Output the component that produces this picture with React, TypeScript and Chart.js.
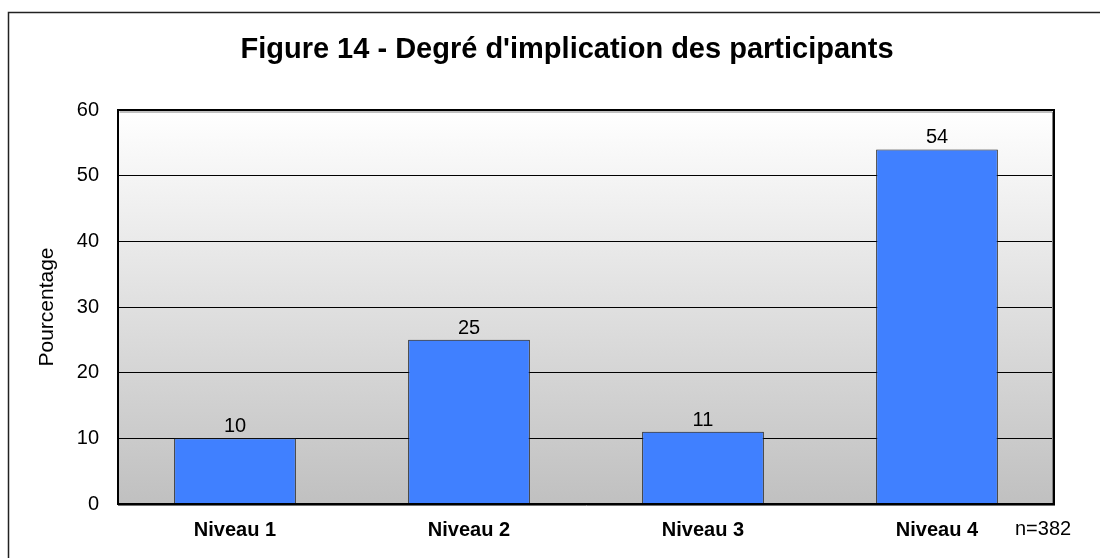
import React, { useEffect, useRef } from "react";
import { Chart, registerables } from "chart.js";

Chart.register(...registerables);

const categories = ["Niveau 1", "Niveau 2", "Niveau 3", "Niveau 4"];
const values = [10, 25, 11, 54];
const yTicks = [0, 10, 20, 30, 40, 50, 60];
const titleText = "Figure 14 - Degré d'implication des participants";
const yTitle = "Pourcentage";
const noteText = "n=382";

const FONT = "'Liberation Sans', Arial, sans-serif";

const decorPlugin = {
  id: "decor",
  beforeDraw(chart: any) {
    const { ctx, chartArea: a } = chart;
    ctx.save();
    ctx.fillStyle = "#ffffff";
    ctx.fillRect(0, 0, chart.width, chart.height);
    const g = ctx.createLinearGradient(0, a.top, 0, a.bottom);
    g.addColorStop(0, "#ffffff");
    g.addColorStop(1, "#c0c0c0");
    ctx.fillStyle = g;
    ctx.fillRect(a.left, a.top, a.right - a.left, a.bottom - a.top);
    // outer frame (top and left only visible)
    ctx.strokeStyle = "#222222";
    ctx.lineWidth = 1.5;
    ctx.beginPath();
    ctx.moveTo(8.5, chart.height);
    ctx.lineTo(8.5, 12.5);
    ctx.lineTo(chart.width, 12.5);
    ctx.stroke();
    ctx.restore();
  },
  afterDraw(chart: any) {
    const { ctx, chartArea: a } = chart;
    ctx.save();
    // plot frame
    ctx.lineWidth = 1;
    ctx.strokeStyle = "#808080";
    ctx.beginPath();
    ctx.moveTo(a.left + 1.5, a.top + 2);
    ctx.lineTo(a.right - 1.5, a.top + 2);
    ctx.moveTo(a.right - 1.5, a.top + 2);
    ctx.lineTo(a.right - 1.5, a.bottom);
    ctx.stroke();
    ctx.lineWidth = 2;
    ctx.strokeStyle = "#000000";
    ctx.beginPath();
    ctx.moveTo(a.left, a.bottom);
    ctx.lineTo(a.left, a.top);
    ctx.lineTo(a.right, a.top);
    ctx.lineTo(a.right, a.bottom);
    ctx.stroke();
    ctx.beginPath();
    ctx.moveTo(a.left - 1, a.bottom);
    ctx.lineTo(a.right + 1, a.bottom);
    ctx.stroke();
    ctx.strokeStyle = "#707070";
    ctx.lineWidth = 1;
    ctx.beginPath();
    ctx.moveTo(a.left, a.bottom + 1.5);
    ctx.lineTo(a.right + 1, a.bottom + 1.5);
    ctx.stroke();
    // value labels
    const meta = chart.getDatasetMeta(0);
    ctx.fillStyle = "#000000";
    ctx.font = `20px ${FONT}`;
    ctx.textAlign = "center";
    ctx.textBaseline = "alphabetic";
    meta.data.forEach((el: any, i: number) => {
      ctx.fillText(String(values[i]), el.x, el.y - 6);
    });
    // note
    ctx.textAlign = "left";
    ctx.textBaseline = "middle";
    ctx.fillText(noteText, 1015, 529);
    // title
    ctx.font = `bold 29px ${FONT}`;
    ctx.textAlign = "center";
    ctx.textBaseline = "alphabetic";
    ctx.fillText(titleText, 567, 58);
    ctx.restore();
  },
};

export default function App() {
  const ref = useRef<HTMLCanvasElement | null>(null);
  useEffect(() => {
    if (!ref.current) return;
    const chart = new Chart(ref.current, {
      type: "bar",
      data: {
        labels: categories,
        datasets: [
          {
            data: values,
            backgroundColor: "#4080ff",
            borderColor: "#1a1a1a",
            borderWidth: 1,
            barPercentage: 0.52,
            categoryPercentage: 1,
          },
        ],
      },
      options: {
        responsive: false,
        animation: false,
        layout: { padding: { left: 35, right: 46, top: 110, bottom: 0 } },
        plugins: {
          legend: { display: false },
          tooltip: { enabled: false },
          title: { display: false },
        },
        scales: {
          x: {
            grid: { display: false, drawTicks: false },
            border: { display: false },
            ticks: {
              color: "#000000",
              font: { family: FONT, size: 20, weight: "bold" },
              padding: 14,
            },
            afterFit: (s: any) => {
              s.height = 54;
            },
          },
          y: {
            min: 0,
            max: 60,
            afterBuildTicks: (s: any) => {
              s.ticks = yTicks.map((v) => ({ value: v }));
            },
            grid: { color: "#000000", lineWidth: 1, drawTicks: false },
            border: { display: false },
            ticks: {
              color: "#000000",
              font: { family: FONT, size: 20 },
              padding: 19,
            },
            title: {
              display: true,
              text: yTitle,
              color: "#000000",
              font: { family: FONT, size: 21 },
              padding: 0,
            },
            afterFit: (s: any) => {
              s.width = 83;
            },
          },
        },
      },
      plugins: [decorPlugin],
    } as any);
    return () => chart.destroy();
  }, []);
  return (
    <div style={{ position: "fixed", left: 0, top: 0, width: 1100, height: 558 }}>
      <canvas ref={ref} width={1100} height={558} />
    </div>
  );
}
